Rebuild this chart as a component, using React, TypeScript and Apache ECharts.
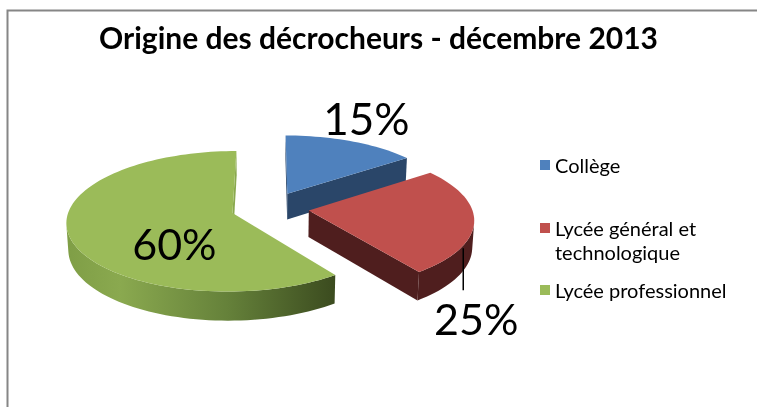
import React, { useEffect, useRef } from "react";
import * as echarts from "echarts";

const TITLE = "Origine des décrocheurs - décembre 2013";
const categories = ["Collège", "Lycée général et technologique", "Lycée professionnel"];
const legendLabels = ["Collège", " \nLycée général et\ntechnologique", "Lycée professionnel"];
const values = [15, 25, 60];

const topColors = ["#4F81BD", "#C0504D", "#9BBB59"];

// 3D projection settings (style)
const CAM = { cx: 270, cy: 208, s: 163, sin: 0.418, cos: 0.909, d: 7.85, h: 0.179, explode: 0.24 };

function proj(X: number, Y: number, Z: number): number[] {
  const v = Y * CAM.cos + Z * CAM.sin;
  const w = Z * CAM.cos - Y * CAM.sin;
  const p = CAM.d / (CAM.d + w);
  return [CAM.cx + CAM.s * X * p, CAM.cy - CAM.s * v * p];
}

function area(pts: number[][]): number {
  let a = 0;
  for (let i = 0; i < pts.length; i++) {
    const p = pts[i];
    const q = pts[(i + 1) % pts.length];
    a += p[0] * q[1] - q[0] * p[1];
  }
  return a / 2;
}

function wallFill(i: number): any {
  if (i === 0) return "#2A4669";
  if (i === 1) return "#4F1E1E";
  return new echarts.graphic.LinearGradient(0, 0, 1, 0, [
    { offset: 0, color: "#7F9E46" },
    { offset: 0.2, color: "#8AA94F" },
    { offset: 0.6, color: "#65813A" },
    { offset: 1, color: "#3B4B1F" },
  ]);
}

// label placement style per slice
const labelStyles = [
  { mode: "outside", r: 1.3, dx: -2, dy: -9, size: 44 },
  { mode: "leader", r: 1, dx: 0, dy: 0, len: 42, size: 43 },
  { mode: "inside", r: 0.32, dx: -7, dy: 23, size: 43 },
];

export default function App() {
  const ref = useRef<HTMLDivElement>(null);
  useEffect(() => {
    if (!ref.current) return;
    const chart = echarts.init(ref.current, undefined, { renderer: "svg" });
    const total = values.reduce((a, b) => a + b, 0);
    const cum: number[] = [];
    values.reduce((acc, v, i) => {
      cum[i] = acc;
      return acc + v;
    }, 0);

    const renderItem = (params: any, api: any) => {
      const i = params.dataIndex;
      const v = api.value(0);
      const start = api.value(1);
      const a0 = (start / total) * Math.PI * 2;
      const a1 = ((start + v) / total) * Math.PI * 2;
      const am = (a0 + a1) / 2;
      const ox = CAM.explode * Math.sin(am);
      const oz = CAM.explode * Math.cos(am);
      const H = CAM.h;
      const P = (a: number, Y: number, r = 1) => proj(ox + r * Math.sin(a), Y, oz + r * Math.cos(a));
      const C = (Y: number) => proj(ox, Y, oz);
      const n = Math.max(2, Math.ceil((a1 - a0) / (Math.PI / 90)));
      const angles: number[] = [];
      for (let k = 0; k <= n; k++) angles.push(a0 + ((a1 - a0) * k) / n);

      const children: any[] = [];
      const fill = wallFill(i);

      // radial walls
      const startWall = [P(a0, 0), C(0), C(-H), P(a0, -H)];
      const endWall = [C(0), P(a1, 0), P(a1, -H), C(-H)];
      [startWall, endWall].forEach((w) => {
        if (area(w) > 0.5) {
          children.push({ type: "polygon", shape: { points: w }, style: { fill: i === 2 ? "#8AA94F" : fill }, z2: 1 });
        }
      });

      // outer wall visible runs
      const runs: number[][] = [];
      let cur: number[] | null = null;
      for (let k = 0; k < n; k++) {
        const a = angles[k];
        const b = angles[k + 1];
        const quad = [P(b, 0), P(a, 0), P(a, -H), P(b, -H)];
        if (area(quad) > 0) {
          if (!cur) cur = [k, k + 1];
          else cur[1] = k + 1;
        } else if (cur) {
          runs.push(cur);
          cur = null;
        }
      }
      if (cur) runs.push(cur);
      runs.forEach(([from, to]) => {
        const pts: number[][] = [];
        for (let k = to; k >= from; k--) pts.push(P(angles[k], 0));
        for (let k = from; k <= to; k++) pts.push(P(angles[k], -H));
        children.push({ type: "polygon", shape: { points: pts }, style: { fill, stroke: null }, z2: 2 });
      });

      // top face
      const top = [C(0)];
      angles.forEach((a) => top.push(P(a, 0)));
      children.push({ type: "polygon", shape: { points: top }, style: { fill: topColors[i] }, z2: 5 });

      // label
      const ls = labelStyles[i];
      const txt = Math.round((v / total) * 100) + "%";
      const textStyle = { text: txt, fontSize: ls.size, fontFamily: "Lato", fill: "#000", align: "center", verticalAlign: "middle" };
      if (ls.mode === "leader") {
        const s = P(am, -H, ls.r);
        const lx = s[0] - 9;
        const ly0 = s[1];
        const ly1 = s[1] + (ls.len || 40);
        children.push({ type: "line", shape: { x1: lx, y1: ly0, x2: lx, y2: ly1 }, style: { stroke: "#000", lineWidth: 1.5 }, z2: 9 });
        children.push({ type: "text", x: lx + 13, y: ly1 + 28, style: textStyle, z2: 10 });
      } else {
        const s = P(am, 0, ls.r);
        children.push({ type: "text", x: s[0] + ls.dx, y: s[1] + ls.dy, style: textStyle, z2: 10 });
      }
      return { type: "group", children };
    };

    const legendText = { fontFamily: "Lato", fontSize: 20, color: "#000", lineHeight: 20 };
    const legendCommon: any = {
      orient: "vertical",
      left: 540,
      itemWidth: 10,
      itemHeight: 10,
      icon: "rect",
      padding: 0,
      selectedMode: false,
      formatter: (name: string) => legendLabels[categories.indexOf(name)],
      textStyle: legendText,
    };

    chart.setOption({
      animation: false,
      title: {
        text: TITLE,
        left: "center",
        top: 17,
        textStyle: { fontFamily: "Lato", fontWeight: "bold", fontSize: 30, color: "#000" },
      },
      legend: [
        { ...legendCommon, top: 155, data: [categories[0]] },
        {
          ...legendCommon,
          top: 192,
          data: [categories[1]],
          textStyle: { ...legendText, lineHeight: 24 },
        },
        { ...legendCommon, top: 280, data: [categories[2]] },
      ],
      graphic: [
        {
          type: "rect",
          shape: { x: 7.5, y: 10.5, width: 800, height: 500 },
          style: { fill: "none", stroke: "#868686", lineWidth: 2 },
          silent: true,
        },
      ],
      series: [
        {
          type: "pie",
          center: [-300, -300],
          radius: 5,
          silent: true,
          label: { show: false },
          labelLine: { show: false },
          data: categories.map((name, i) => ({ name, value: values[i], itemStyle: { color: topColors[i] } })),
        },
        {
          type: "custom",
          coordinateSystem: "none",
          silent: true,
          data: values.map((v, i) => [v, cum[i]]),
          renderItem,
        },
      ],
    });
    return () => chart.dispose();
  }, []);
  return <div ref={ref} style={{ position: "fixed", left: 0, top: 0, width: 757, height: 407 }} />;
}
